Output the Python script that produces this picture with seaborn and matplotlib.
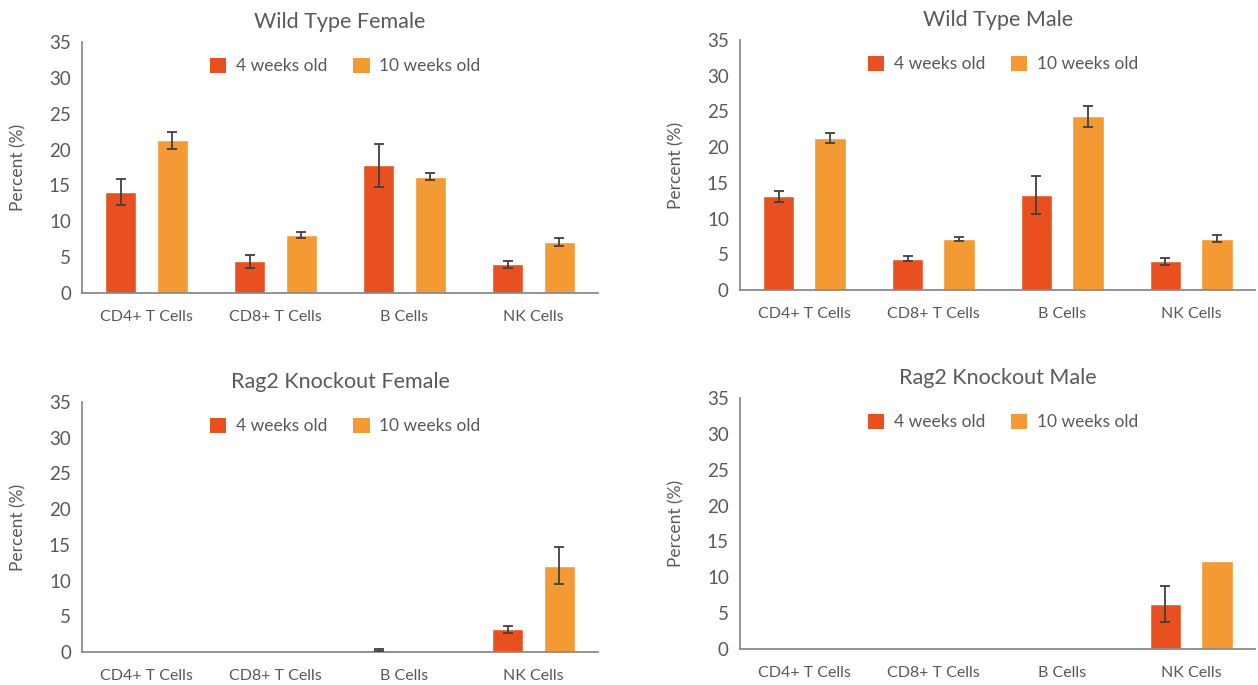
import numpy as np
import pandas as pd
import matplotlib.pyplot as plt
import seaborn as sns
from matplotlib.patches import Patch

# ===================== data =====================
CELLS = ["CD4+ T Cells", "CD8+ T Cells", "B Cells", "NK Cells"]
AGES = ["4 weeks old", "10 weeks old"]
COLORS = ["#E8501F", "#F39A34"]

wt_female_4 = [14.1, 4.4, 17.8, 4.0]
wt_female_4_err = [1.8, 0.85, 3.0, 0.5]
wt_female_10 = [21.3, 8.1, 16.2, 7.1]
wt_female_10_err = [1.2, 0.4, 0.5, 0.5]

wt_male_4 = [13.1, 4.4, 13.3, 4.0]
wt_male_4_err = [0.8, 0.4, 2.7, 0.5]
wt_male_10 = [21.3, 7.1, 24.3, 7.2]
wt_male_10_err = [0.7, 0.3, 1.5, 0.5]

ko_female_4 = [0.0, 0.0, 0.3, 3.2]
ko_female_4_err = [0.0, 0.0, 0.1, 0.5]
ko_female_10 = [0.0, 0.0, 0.0, 12.1]
ko_female_10_err = [0.0, 0.0, 0.0, 2.6]

ko_male_4 = [0.0, 0.0, 0.0, 6.3]
ko_male_4_err = [0.0, 0.0, 0.0, 2.5]
ko_male_10 = [0.0, 0.0, 0.0, 12.3]
ko_male_10_err = [0.0, 0.0, 0.0, 0.0]

PANELS = [
    ("Wild Type Female", wt_female_4, wt_female_4_err, wt_female_10, wt_female_10_err),
    ("Wild Type Male", wt_male_4, wt_male_4_err, wt_male_10, wt_male_10_err),
    ("Rag2 Knockout Female", ko_female_4, ko_female_4_err, ko_female_10, ko_female_10_err),
    ("Rag2 Knockout Male", ko_male_4, ko_male_4_err, ko_male_10, ko_male_10_err),
]

# axes rectangles in figure fractions (left, bottom, width, height)
RECTS = [
    (0.0652, 0.5723, 0.4102, 0.3664),
    (0.5882, 0.5766, 0.4098, 0.3650),
    (0.0652, 0.0482, 0.4102, 0.3650),
    (0.5882, 0.0526, 0.4098, 0.3664),
]

# ===================== style =====================
sns.set_theme(style="white")
plt.rcParams['font.family'] = ['Lato', 'DejaVu Sans']
TEXT = "#595959"
AXIS = "#8a8a8a"

fig = plt.figure(figsize=(12.58, 6.85), dpi=100)

for (title, v4, e4, v10, e10), rect in zip(PANELS, RECTS):
    ax = fig.add_axes(rect)
    df = pd.DataFrame({
        "cell": CELLS * 2,
        "age": [AGES[0]] * len(CELLS) + [AGES[1]] * len(CELLS),
        "pct": v4 + v10,
    })
    sns.barplot(data=df, x="cell", y="pct", hue="age", order=CELLS, hue_order=AGES,
                palette=COLORS, saturation=1, width=0.8, gap=0.39,
                errorbar=None, legend=False, ax=ax)

    # error bars at the bar centres
    for cont, vals, errs in zip(ax.containers, [v4, v10], [e4, e10]):
        for bar, v, e in zip(cont, vals, errs):
            if e > 0:
                ax.errorbar(bar.get_x() + bar.get_width() / 2, v, yerr=e,
                            fmt="none", ecolor="#404040", elinewidth=1.3,
                            capsize=3.5, capthick=1.3, zorder=5)

    ax.set_ylim(0, 35)
    ax.set_xlim(-0.5, 3.5)
    ax.set_yticks(np.arange(0, 36, 5))
    ax.tick_params(axis="y", length=0, pad=8, labelsize=13.5, labelcolor=TEXT)

    ax.set_xticks([-0.5, 0.5, 1.5, 2.5, 3.5])
    ax.set_xticklabels([])
    ax.set_xticks(range(len(CELLS)), minor=True)
    ax.set_xticklabels(CELLS, minor=True)
    ax.tick_params(axis="x", which="major", length=7, width=1.3, color=AXIS, direction="out")
    ax.tick_params(axis="x", which="minor", length=0, pad=12, labelsize=11.5, labelcolor=TEXT)

    sns.despine(ax=ax)
    for s in ["left", "bottom"]:
        ax.spines[s].set_color(AXIS)
        ax.spines[s].set_linewidth(1.3)

    ax.set_xlabel("")
    ax.set_ylabel("Percent (%)", fontsize=12.5, color=TEXT, labelpad=16)
    ax.set_title(title, fontsize=15.5, color=TEXT, pad=10)

    handles = [Patch(facecolor=c, edgecolor="none", label=a) for c, a in zip(COLORS, AGES)]
    ax.legend(handles=handles, loc="upper center", bbox_to_anchor=(0.51, 1.0), ncol=2,
              frameon=False, handlelength=0.95, handleheight=0.95, handletextpad=0.55,
              columnspacing=1.5, fontsize=12.5, labelcolor=TEXT)

fig.savefig("out.png", dpi=100)
